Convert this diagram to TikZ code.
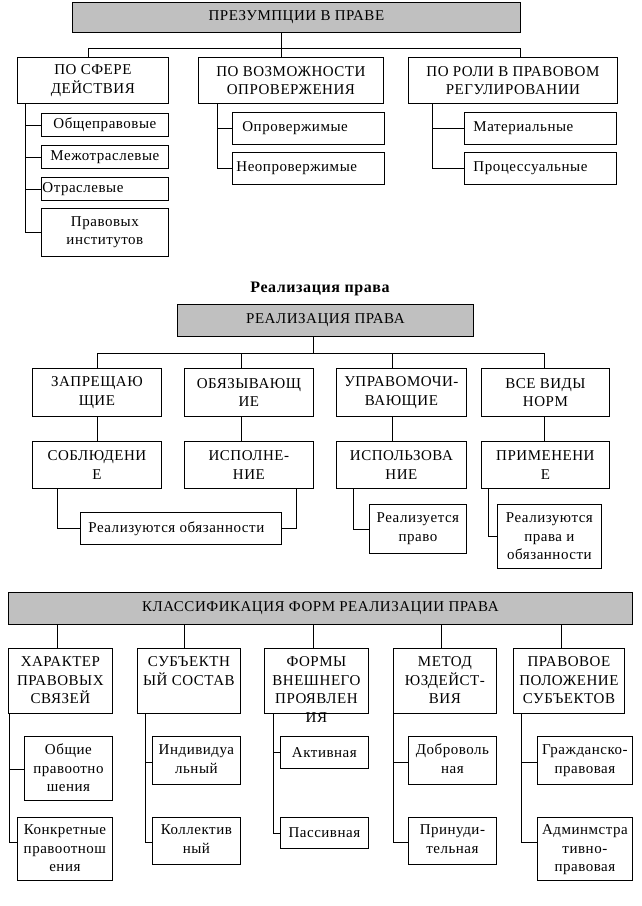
\documentclass[tikz,border=0pt]{standalone}
\usepackage{fontspec}
\setmainfont{Liberation Serif}[LetterSpace=3.5]
\definecolor{hdr}{RGB}{192,192,192}
\newcommand\cbx[3]{\parbox[c][#2pt][c]{#1pt}{\centering #3\par}}
\newcommand\tbx[4]{\parbox[c][#2pt][t]{#1pt}{\centering\vspace*{#3pt}\strut #4\par}}
\newcommand\lbx[4]{\parbox[c][#2pt][c]{#1pt}{\raggedright\hspace*{#3pt}#4\par}}
\tikzset{
  box/.style={draw, line width=0.8pt, inner sep=0pt, anchor=north west,
    font=\fontsize{15}{18.5}\selectfont},
  hbox/.style={box, fill=hdr},
  conn/.style={draw, line width=0.8pt}
}
\begin{document}
\begin{tikzpicture}[x=1pt,y=-1pt]
\useasboundingbox (0,0) rectangle (641,906);
% ---------- Section 1 ----------
\node[hbox] (p) at (72,2) {\cbx{448}{30}{ПРЕЗУМПЦИИ В ПРАВЕ}};
\node[box] (p1) at (17,57) {\cbx{151}{46}{ПО СФЕРЕ\\ДЕЙСТВИЯ}};
\node[box] (p2) at (198,57) {\cbx{185}{46}{ПО ВОЗМОЖНОСТИ\\ОПРОВЕРЖЕНИЯ}};
\node[box] (p3) at (408,57) {\cbx{209}{46}{ПО РОЛИ В ПРАВОВОМ\\РЕГУЛИРОВАНИИ}};
\node[box] (p11) at (41,113) {\cbx{127}{23}{Общеправовые}};
\node[box] (p12) at (41,145) {\cbx{127}{23}{Межотраслевые}};
\node[box] (p13) at (41,177) {\lbx{127}{23}{1}{Отраслевые}};
\node[box] (p14) at (41,208) {\cbx{127}{48}{Правовых\\институтов}};
\node[box] (p21) at (232,112) {\lbx{152}{32}{10}{Опровержимые}};
\node[box] (p22) at (232,152) {\lbx{152}{32}{4}{Неопровержимые}};
\node[box] (p31) at (464,112) {\lbx{152}{32}{9}{Материальные}};
\node[box] (p32) at (464,152) {\lbx{152}{32}{9}{Процессуальные}};
\coordinate (pj) at (281,48);
\coordinate (pl) at (88,48);
\coordinate (pr) at (520,48);
\draw[conn] (p.south -| pj) -- (pj);
\draw[conn] (pl) -- (pr);
\draw[conn] (pl) -- (pl |- p1.north);
\draw[conn] (pj) -- (pj |- p2.north);
\draw[conn] (pr) -- (pr |- p3.north);
\coordinate (s1) at (25,103);
\coordinate (s2) at (217,103);
\coordinate (s3) at (432,103);
\draw[conn] (s1) |- (p11.west);
\draw[conn] (s1) |- (p12.west);
\draw[conn] (s1) |- (p13.west);
\draw[conn] (s1) |- (p14.west);
\draw[conn] (s2) |- (p21.west);
\draw[conn] (s2) |- (p22.west);
\draw[conn] (s3) |- (p31.west);
\draw[conn] (s3) |- (p32.west);
% ---------- Section 2 ----------
\node[font=\bfseries\fontsize{16}{19}\selectfont] (h2) at (320,289) {Реализация права};
\node[hbox] (r) at (177,304) {\cbx{296}{32}{РЕАЛИЗАЦИЯ ПРАВА}};
\node[box] (ra) at (32,368) {\cbx{129}{48}{ЗАПРЕЩАЮ\\ЩИЕ}};
\node[box] (rb) at (184,368) {\cbx{129}{48}{ОБЯЗЫВАЮЩ\\ИЕ}};
\node[box] (rc) at (336,368) {\cbx{130}{48}{УПРАВОМОЧИ-\\ВАЮЩИЕ}};
\node[box] (rd) at (481,368) {\cbx{128}{48}{ВСЕ ВИДЫ\\НОРМ}};
\node[box] (sa) at (32,441) {\cbx{129}{47}{СОБЛЮДЕНИ\\Е}};
\node[box] (sb) at (184,441) {\cbx{129}{47}{ИСПОЛНЕ-\\НИЕ}};
\node[box] (sc) at (336,441) {\cbx{130}{47}{ИСПОЛЬЗОВА\\НИЕ}};
\node[box] (sd) at (481,441) {\cbx{128}{47}{ПРИМЕНЕНИ\\Е}};
\node[box] (oa) at (80,512) {\lbx{201}{32}{8}{Реализуются обязанности}};
\node[box] (oc) at (369,504) {\cbx{97}{49}{Реализуется\\право}};
\node[box] (od) at (497,504) {\cbx{104}{64}{Реализуются\\права и\\обязанности}};
\coordinate (rj) at (313,353);
\coordinate (r1) at (97,353);
\coordinate (r2) at (241,353);
\coordinate (r3) at (392,353);
\coordinate (r4) at (544,353);
\draw[conn] (r.south -| rj) -- (rj);
\draw[conn] (r1) -- (r4);
\draw[conn] (r1) -- (r1 |- ra.north);
\draw[conn] (r2) -- (r2 |- rb.north);
\draw[conn] (r3) -- (r3 |- rc.north);
\draw[conn] (r4) -- (r4 |- rd.north);
\draw[conn] (ra.south -| r1) -- (r1 |- sa.north);
\draw[conn] (rb.south -| r2) -- (r2 |- sb.north);
\draw[conn] (rc.south -| r3) -- (r3 |- sc.north);
\draw[conn] (rd.south -| r4) -- (r4 |- sd.north);
\coordinate (qa) at (57,488);
\coordinate (qb) at (296,488);
\coordinate (qc) at (353,488);
\coordinate (qd) at (488,488);
\draw[conn] (qa) |- (oa.west);
\draw[conn] (qb) |- (oa.east);
\draw[conn] (qc) |- (oc.west);
\draw[conn] (qd) |- (od.west);
% ---------- Section 3 ----------
\node[hbox] (k) at (8,592) {\cbx{624}{32}{КЛАССИФИКАЦИЯ ФОРМ РЕАЛИЗАЦИИ ПРАВА}};
\node[box] (ka) at (8,648) {\tbx{104}{65}{5.5}{ХАРАКТЕР\\ПРАВОВЫХ\\СВЯЗЕЙ}};
\node[box] (kb) at (137,648) {\tbx{103}{65}{5.5}{СУБЪЕКТН\\ЫЙ СОСТАВ}};
\node[box] (kc) at (264,648) {\tbx{104}{65}{5.5}{ФОРМЫ\\ВНЕШНЕГО\\ПРОЯВЛЕН\\ИЯ}};
\node[box] (kd) at (393,648) {\tbx{103}{65}{5.5}{МЕТОД\\ЮЗДЕЙСТ-\\ВИЯ}};
\node[box] (ke) at (513,648) {\tbx{111}{65}{5.5}{ПРАВОВОЕ\\ПОЛОЖЕНИЕ\\СУБЪЕКТОВ}};
\coordinate (d1) at (57,624);
\coordinate (d2) at (184,624);
\coordinate (d3) at (313,624);
\coordinate (d4) at (441,624);
\coordinate (d5) at (561,624);
\draw[conn] (d1) -- (d1 |- ka.north);
\draw[conn] (d2) -- (d2 |- kb.north);
\draw[conn] (d3) -- (d3 |- kc.north);
\draw[conn] (d4) -- (d4 |- kd.north);
\draw[conn] (d5) -- (d5 |- ke.north);
\node[box] (ka1) at (24,736) {\tbx{88}{64}{5.5}{Общие\\правоотно\\шения}};
\node[box] (ka2) at (17,817) {\tbx{95}{63}{4.5}{Конкретные\\правоотнош\\ения}};
\node[box] (kb1) at (152,736) {\tbx{88}{48}{5.5}{Индивидуа\\льный}};
\node[box] (kb2) at (152,817) {\tbx{88}{47}{4.5}{Коллектив\\ный}};
\node[box] (kc1) at (280,736) {\cbx{88}{32}{Активная}};
\node[box] (kc2) at (280,817) {\cbx{88}{31}{Пассивная}};
\node[box] (kd1) at (408,736) {\tbx{88}{48}{5.5}{Доброволь\\ная}};
\node[box] (kd2) at (408,817) {\tbx{88}{47}{4.5}{Принуди-\\тельная}};
\node[box] (ke1) at (537,736) {\tbx{95}{48}{5.5}{Гражданско-\\правовая}};
\node[box] (ke2) at (537,817) {\tbx{95}{63}{4.5}{Админмстра\\тивно-\\правовая}};
\coordinate (ya) at (0,769);
\coordinate (yb) at (0,762);
\coordinate (yc) at (0,842);
\coordinate (ka0) at (9,713);
\coordinate (kb0) at (145,713);
\coordinate (kc0) at (273,713);
\coordinate (kd0) at (393,713);
\coordinate (ke0) at (521,713);
\draw[conn] (ka0) |- (ka1.west |- ya);
\draw[conn] (ka0) |- (ka2.west |- yc);
\draw[conn] (kb0) |- (kb1.west |- yb);
\draw[conn] (kb0) |- (kb2.west |- yc);
\draw[conn] (kc0) |- (kc1.west);
\draw[conn] (kc0) |- (kc2.west);
\draw[conn] (kd0) |- (kd1.west |- yb);
\draw[conn] (kd0) |- (kd2.west |- yc);
\draw[conn] (ke0) |- (ke1.west |- yb);
\draw[conn] (ke0) |- (ke2.west |- yc);
\end{tikzpicture}
\end{document}
